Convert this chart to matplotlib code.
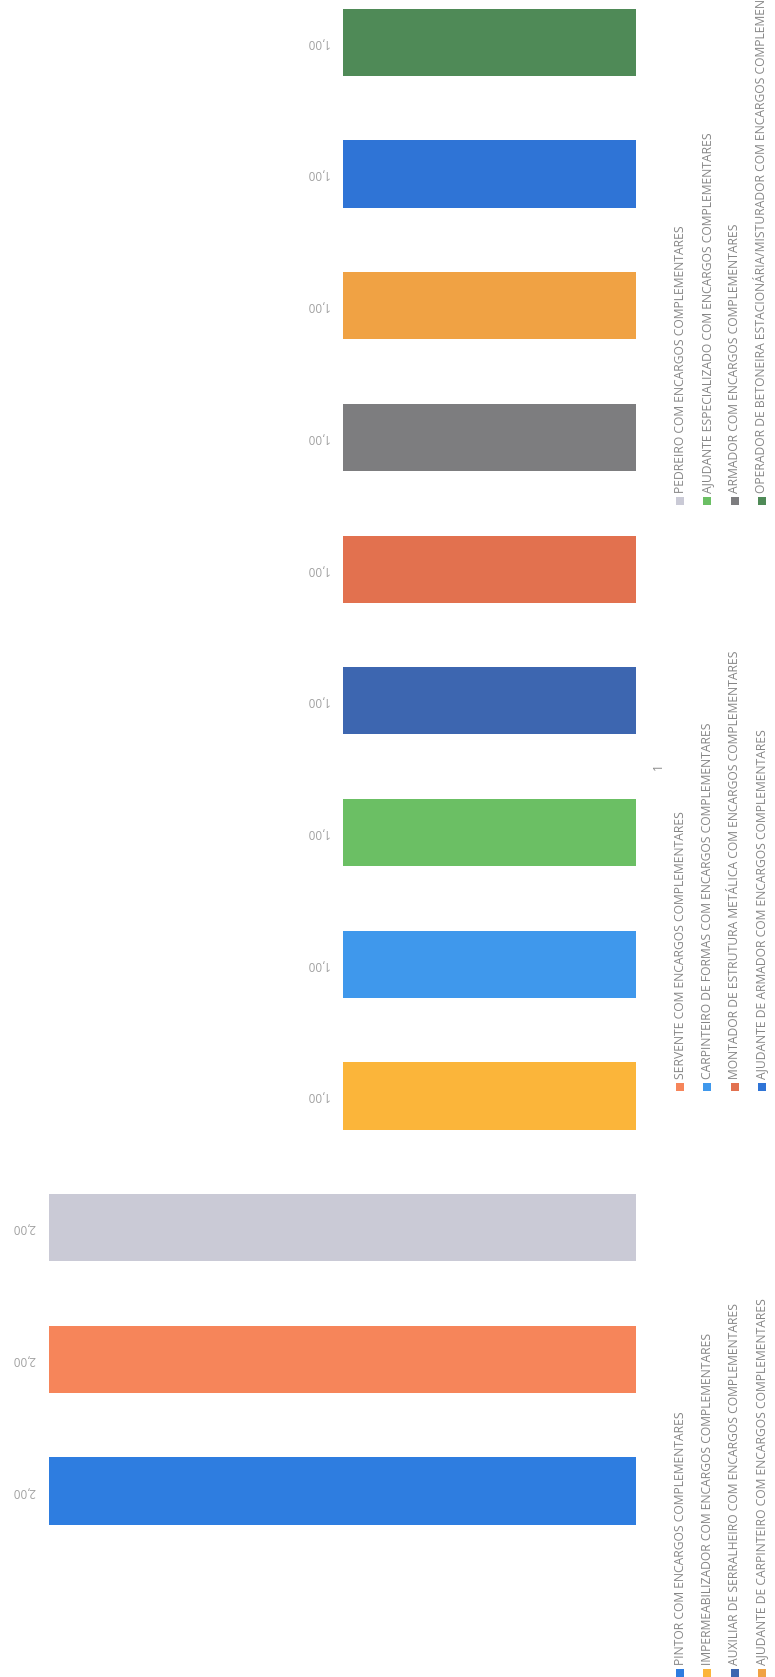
import numpy as np
import matplotlib
matplotlib.use('Agg')
import matplotlib.pyplot as plt

# data (bar order = legend order, row by row)
labels = [
    'PINTOR COM ENCARGOS COMPLEMENTARES',
    'SERVENTE COM ENCARGOS COMPLEMENTARES',
    'PEDREIRO COM ENCARGOS COMPLEMENTARES',
    'IMPERMEABILIZADOR COM ENCARGOS COMPLEMENTARES',
    'CARPINTEIRO DE FORMAS COM ENCARGOS COMPLEMENTARES',
    'AJUDANTE ESPECIALIZADO COM ENCARGOS COMPLEMENTARES',
    'AUXILIAR DE SERRALHEIRO COM ENCARGOS COMPLEMENTARES',
    'MONTADOR DE ESTRUTURA METÁLICA COM ENCARGOS COMPLEMENTARES',
    'ARMADOR COM ENCARGOS COMPLEMENTARES',
    'AJUDANTE DE CARPINTEIRO COM ENCARGOS COMPLEMENTARES',
    'AJUDANTE DE ARMADOR COM ENCARGOS COMPLEMENTARES',
    'OPERADOR DE BETONEIRA ESTACIONÁRIA/MISTURADOR COM ENCARGOS COMPLEMENTARES',
]
values = [2, 2, 2, 1, 1, 1, 1, 1, 1, 1, 1, 1]
colors = ['#2e7de0', '#f6855a', '#cacad6', '#fbb53a', '#3f98ec', '#6bbf64',
          '#3d66b0', '#e2714f', '#7d7d7f', '#f0a244', '#2f74d6', '#4f8a57']
category = '1'

plt.rcParams['font.family'] = ['Open Sans', 'DejaVu Sans']

fig = plt.figure(figsize=(7.75, 16.77), dpi=100)

# the page is scanned sideways: columns run leftwards from the baseline
ax = fig.add_axes([0, 0, 636 / 775, 1])
pos = np.arange(len(values))
ax.barh(pos, values, height=0.51, color=colors)
ax.set_xlim(2.167, 0)
ax.set_ylim(-1.412, 11.321)
ax.axis('off')

for p, v in zip(pos, values):
    ax.text(v + 0.085, p, f'{v:.2f}'.replace('.', ','), rotation=180,
            ha='center', va='center', fontsize=8.5, color='#a0a0a0')

ax.text(-0.075, (len(values) - 1) / 2, category, rotation=90,
        ha='center', va='center', fontsize=8.5, color='#8a8a8a', clip_on=False)

# legend, 3 columns x 4 rows, drawn rotated
lax = fig.add_axes([0, 0, 1, 1])
lax.set_xlim(0, 775)
lax.set_ylim(1677, 0)
lax.axis('off')
for k, (lab, c) in enumerate(zip(labels, colors)):
    row, col = k // 3, k % 3
    x = 680 + 27.3 * row
    y = 1673 - 586 * col
    lax.scatter([x], [y], marker='s', s=30, color=c, linewidths=0)
    lax.text(x, y - 8, lab, rotation=90, ha='center', va='bottom',
             fontsize=8.7, color='#858585')

fig.savefig('out.png', dpi=100)
